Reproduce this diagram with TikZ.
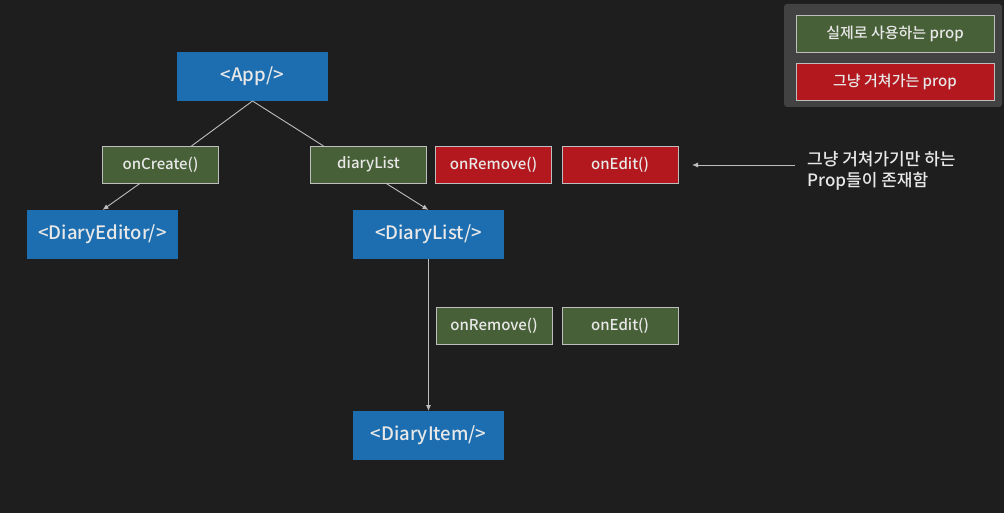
\documentclass[tikz,border=0pt]{standalone}
\usepackage{fontspec}
\setmainfont{Noto Sans CJK KR}[UprightFont=* Medium]
\usetikzlibrary{arrows.meta}

\definecolor{bgdark}{RGB}{30,30,30}
\definecolor{panelgray}{RGB}{66,66,66}
\definecolor{compblue}{RGB}{28,110,176}
\definecolor{propgreen}{RGB}{72,96,56}
\definecolor{propred}{RGB}{178,24,30}
\definecolor{linegray}{RGB}{190,190,190}
\definecolor{textlight}{RGB}{232,232,232}

\tikzset{
	comp/.style={fill=compblue, text=textlight, minimum width=151pt, minimum height=49pt, inner sep=0pt, outer sep=0pt, font=\fontsize{18.5}{22}\selectfont},
	prop/.style={draw=linegray, line width=0.8pt, text=textlight, minimum width=116pt, minimum height=37pt, inner sep=0pt, outer sep=0pt, font=\fontsize{15}{18}\selectfont},
	used/.style={prop, fill=propgreen},
	passed/.style={prop, fill=propred},
	link/.style={draw=linegray, line width=0.9pt},
	tip/.style={link, -{Latex[length=6pt,width=5pt]}}
}

\begin{document}
\begin{tikzpicture}[x=1pt,y=-1pt]
		
		\fill[bgdark] (0,0) rectangle (1004,513);
		\useasboundingbox (0,0) rectangle (1004,513);
		
		% legend
		\fill[panelgray, rounded corners=3pt] (784,4) rectangle (1002,107);
		\node[used, minimum width=198pt, font=\fontsize{15}{18}\selectfont] (lgused) at (895,33.5) {실제로 사용하는 prop};
		\node[passed, minimum width=198pt, font=\fontsize{15}{18}\selectfont] (lgpassed) at (895,81.5) {그냥 거쳐가는 prop};
		
		% components
		\node[comp] (app) at (252.5,76.5) {<App/>};
		\node[comp] (editor) at (102.5,234.5) {<DiaryEditor/>};
		\node[comp] (list) at (428.5,234.5) {<DiaryList/>};
		\node[comp] (item) at (428.5,435.5) {<DiaryItem/>};
		
		% props
		\node[used] (oncreate) at (160.5,164.5) {onCreate()};
		\node[used] (diarylist) at (368.5,164.5) {diaryList};
		\node[passed] (removea) at (493.5,164.5) {onRemove()};
		\node[passed] (edita) at (620,164.5) {onEdit()};
		\node[used] (removeb) at (494,326) {onRemove()};
		\node[used] (editb) at (620,326) {onEdit()};
		
		\draw[link] (app.south) -- ([xshift=31pt]oncreate.north);
		\draw[link] (app.south) -- ([xshift=-45pt]diarylist.north);
		\draw[tip] ([xshift=-20pt]oncreate.south) -- (editor.north);
		\draw[tip] ([xshift=17pt]diarylist.south) -- (list.north);
		\draw[tip] (list.south) -- (item.north);
		
		% note
		\coordinate (notefrom) at (795,165);
		\coordinate (noteto) at (692,165);
		\draw[tip] (notefrom) -- (noteto);
		\node[anchor=west, align=left, text=textlight, inner sep=0pt, font=\fontsize{17}{21}\selectfont] (note) at (807,171) {그냥 거쳐가기만 하는\\Prop들이 존재함};
		
\end{tikzpicture}
\end{document}
